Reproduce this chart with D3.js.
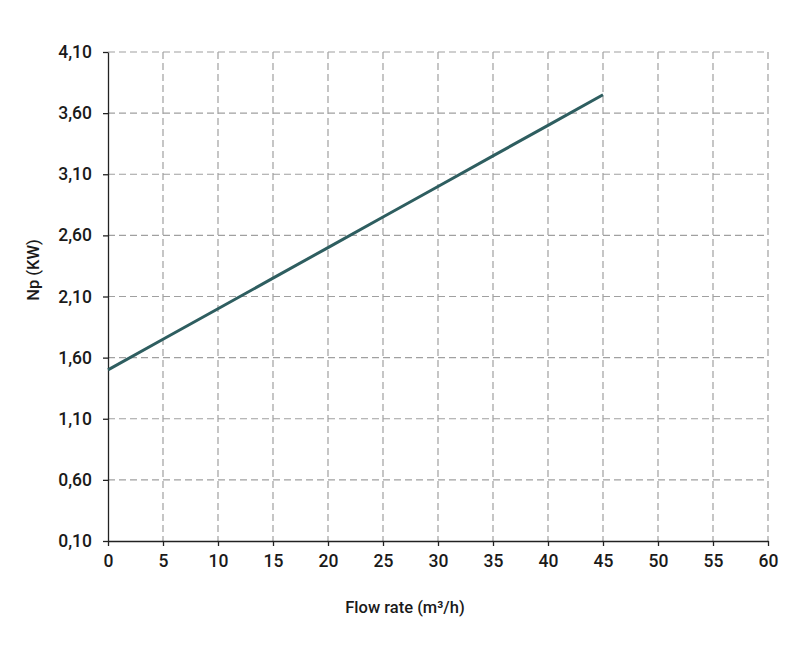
<!DOCTYPE html>
<html><head><meta charset="utf-8">
<script src="https://cdn.jsdelivr.net/npm/d3@7"></script>
<style>body{margin:0;background:#fff}svg{font-family:Roboto,sans-serif}</style>
</head><body><svg id="c" width="800" height="650"></svg>
<script>
const flowRates = [0, 5, 10, 15, 20, 25, 30, 35, 40, 45];
const power = [1.50, 1.75, 2.00, 2.25, 2.50, 2.75, 3.00, 3.25, 3.50, 3.75];
const xTicks = [0, 5, 10, 15, 20, 25, 30, 35, 40, 45, 50, 55, 60];
const yTicks = [0.10, 0.60, 1.10, 1.60, 2.10, 2.60, 3.10, 3.60, 4.10];
const xTitle = "Flow rate (m³/h)";
const yTitle = "Np (KW)";

const svg = d3.select("#c");
const m = {l:108, r:768, t:52, b:541};
const x = d3.scaleLinear().domain([0,60]).range([m.l,m.r]);
const y = d3.scaleLinear().domain([0.10,4.10]).range([m.b,m.t]);

// grid
const g = svg.append("g");
g.selectAll(".vx").data(xTicks.slice(1)).join("line")
  .attr("x1",d=>x(d)).attr("x2",d=>x(d)).attr("y1",m.t).attr("y2",m.b)
  .attr("stroke","#a0a0a0").attr("stroke-width",1.2).attr("stroke-dasharray","7,4");
g.selectAll(".hy").data(yTicks.slice(1)).join("line")
  .attr("x1",m.l).attr("x2",m.r).attr("y1",d=>y(d)).attr("y2",d=>y(d))
  .attr("stroke","#a0a0a0").attr("stroke-width",1.2).attr("stroke-dasharray","7,4");

// axes
const fmt = d3.format(".2f");
const xa = svg.append("g").attr("transform",`translate(0,${m.b})`)
  .call(d3.axisBottom(x).tickValues(xTicks).tickSize(5).tickSizeOuter(0).tickPadding(9));
const ya = svg.append("g").attr("transform",`translate(${m.l},0)`)
  .call(d3.axisLeft(y).tickValues(yTicks).tickSize(5).tickSizeOuter(0).tickPadding(11)
    .tickFormat(d=>fmt(d).replace(".",",")));
[xa,ya].forEach(a=>{
  a.attr("font-family","Roboto, sans-serif").attr("font-size",17.5);
  a.select(".domain").attr("stroke","#222").attr("stroke-width",1.3);
  a.selectAll(".tick line").attr("stroke","#222").attr("stroke-width",1.3);
  a.selectAll("text").attr("fill","#1a1a1a").style("font-weight","500");
});

// line
svg.append("path").datum(flowRates.map((f,i)=>[f,power[i]]))
  .attr("d",d3.line().x(d=>x(d[0])).y(d=>y(d[1])))
  .attr("fill","none").attr("stroke","#2e5e60").attr("stroke-width",3);

// titles
svg.append("text").attr("x",405).attr("y",613).attr("text-anchor","middle")
  .style("font-size","16.5px").style("font-weight","500").attr("fill","#1a1a1a").text(xTitle);
svg.append("text").attr("transform",`translate(39,270) rotate(-90)`).attr("text-anchor","middle")
  .style("font-size","16.5px").style("font-weight","500").attr("fill","#1a1a1a").text(yTitle);
</script></body></html>
